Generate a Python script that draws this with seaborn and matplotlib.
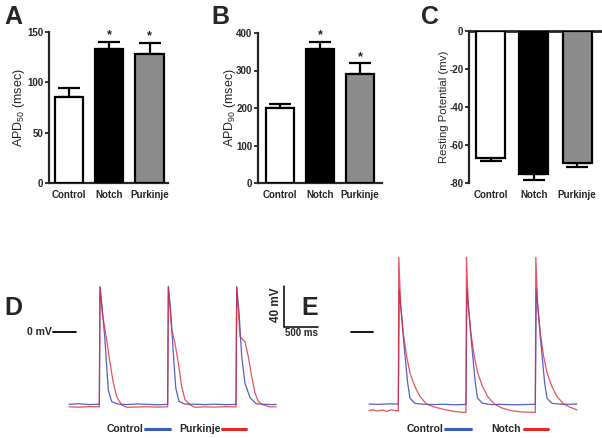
import numpy as np
import pandas as pd
import matplotlib
matplotlib.use("Agg")
import matplotlib.pyplot as plt
from matplotlib.lines import Line2D
import seaborn as sns

sns.set_style("white")
plt.rcParams['font.family'] = ['Liberation Sans', 'DejaVu Sans']
plt.rcParams['mathtext.fontset'] = 'custom'
plt.rcParams['mathtext.rm'] = 'Liberation Sans'
plt.rcParams['mathtext.it'] = 'Liberation Sans'
plt.rcParams['axes.unicode_minus'] = False

# ---------------- data ----------------
groups = ["Control", "Notch", "Purkinje"]
bar_colors = ["#ffffff", "#000000", "#8c8c8c"]

apd50 = [85, 133, 128]
apd50_err = [9, 7, 11]
apd90 = [200, 358, 292]
apd90_err = [12, 19, 27]
rest = [-66.8, -75.3, -69.5]
rest_err = [1.6, 3.1, 1.9]
sig_a = [False, True, True]
sig_b = [False, True, True]

# Action potential traces (time in ms, voltage in mV)
d_ctrl_t = [0, 150, 300, 440, 446, 456, 490, 529, 554, 578, 628, 721, 850, 1000, 1150, 1300, 1445,
            1451, 1461, 1495, 1524, 1549, 1571, 1616, 1701, 1850, 2000, 2150, 2300, 2450,
            2456, 2466, 2500, 2540, 2588, 2662, 2750, 2850, 3000, 3045]
d_ctrl_v = [-70.5, -70.0, -70.8, -70.5, -70.5, 44, 21.5, -7.8, -33.8, -56.6, -68, -70.3, -70.8, -70.2, -70.6, -71, -70.6,
            -70.6, 44.5, 21, -10, -35, -55, -67.5, -70.3, -70.5, -70.8, -70.4, -70.9, -70.6,
            -70.6, 44, 20, -24, -50, -64, -70, -70.5, -70.8, -70.6]
d_purk_t = [0, 150, 300, 440, 446, 456, 490, 554, 603, 652, 701, 775, 850, 1000, 1150, 1300, 1445,
            1451, 1461, 1510, 1558, 1607, 1657, 1705, 1779, 1850, 2000, 2150, 2300, 2450,
            2456, 2466, 2515, 2588, 2637, 2687, 2735, 2784, 2857, 2950, 3045]
d_purk_v = [-73, -73.3, -72.8, -73, -73, 44, 18.5, -7.8, -30, -49.8, -63.1, -71.3, -73.5, -73.2, -72.9, -73.3, -73,
            -73, 44, 2, -10.7, -30, -53, -66, -71, -73.5, -73, -73.3, -72.9, -73,
            -73, 44, -4.5, -9.5, -24, -43.6, -59.5, -68, -71.2, -73, -73]

e_ctrl_t = [0, 150, 300, 425, 431, 445, 481, 504, 540, 569, 603, 676, 800, 950, 1100, 1250, 1420,
            1426, 1440, 1476, 1499, 1535, 1564, 1598, 1671, 1800, 1950, 2100, 2250, 2440,
            2446, 2460, 2496, 2519, 2555, 2584, 2618, 2691, 2800, 2950, 3058]
e_ctrl_v = [-70.3, -70.6, -70.1, -70.4, -70.4, 41.7, 15, -4.6, -30, -50, -64.7, -69.6, -70.5, -70.8, -70.5, -71, -70.7,
            -70.7, 41.7, 15, -4.6, -30, -50, -64.7, -69.6, -70.8, -70.6, -71, -70.8, -70.6,
            -70.6, 41.7, 15, -4.6, -30, -50, -64.7, -69.6, -70.3, -70.5, -70.3]
e_notch_t = [0, 60, 120, 200, 260, 330, 390, 428, 431, 438, 466, 504, 554, 603, 676, 750, 848, 950, 1100, 1250, 1420,
             1426, 1433, 1461, 1499, 1549, 1598, 1671, 1745, 1843, 1950, 2100, 2250, 2440,
             2446, 2453, 2481, 2519, 2569, 2618, 2691, 2765, 2863, 2960, 3058]
e_notch_v = [-76.5, -76, -77, -76.2, -77.5, -75.8, -76.8, -77, -77, 72.9, 24.7, -1, -24, -40, -53.4, -63, -70.3, -73, -75.5, -77.5, -78.5,
             -78.5, 72.9, 24.7, -1, -24, -40, -53.4, -63, -70.3, -74, -77, -78, -78.4,
             -78.4, 72.9, 24.7, -1, -24, -40, -53.4, -63, -70.3, -73.5, -76]

BLUE = "#4450c0"
RED = "#e0283a"

# ---------------- layout helpers ----------------
W, H = 602, 438
fig = plt.figure(figsize=(W / 100, H / 100), dpi=100)


def rect(l, t, r, b):
    return [l / W, 1 - b / H, (r - l) / W, (b - t) / H]


def fx(x):
    return x / W


def fy(y):
    return 1 - y / H


def bar_panel(box, vals, errs, ylim, yticks, ylabel, xlim, width, ylabsize, labpad, neg=False, sig=None):
    ax = fig.add_axes(rect(*box))
    df = pd.DataFrame({"group": groups, "value": vals})
    sns.barplot(data=df, x="group", y="value", hue="group", palette=bar_colors,
                edgecolor="black", linewidth=1.6, errorbar=None, width=width,
                legend=False, ax=ax, zorder=3)
    lo = [0] * 3
    yerr = [errs, lo] if neg else [lo, errs]
    ax.errorbar(x=np.arange(3), y=vals, yerr=yerr, fmt="none", ecolor="black",
                elinewidth=1.6, capsize=8, capthick=1.6, zorder=2)
    ax.set_ylim(*ylim)
    ax.set_xlim(*xlim)
    ax.set_yticks(yticks)
    ax.set_xlabel("")
    ax.set_ylabel(ylabel, fontsize=ylabsize, labelpad=labpad)
    ax.tick_params(axis="y", direction="out", length=3, width=1.3, labelsize=7, pad=1, left=True)
    ax.tick_params(axis="x", length=0, labelsize=7, pad=5)
    for lab in ax.get_xticklabels() + ax.get_yticklabels():
        lab.set_fontweight("bold")
    ax.spines["right"].set_visible(False)
    ax.spines["left"].set_linewidth(1.6)
    if neg:
        ax.spines["bottom"].set_visible(False)
        ax.spines["top"].set_linewidth(2.0)
    else:
        ax.spines["top"].set_visible(False)
        ax.spines["bottom"].set_linewidth(1.6)
    ax.set_facecolor("none")
    if sig is not None:
        for i, s in enumerate(sig):
            if s:
                ax.annotate("*", (i, vals[i] + errs[i]), xytext=(0, 0.5),
                            textcoords="offset points", ha="center", va="bottom",
                            fontsize=9, fontweight="bold")
    return ax


axA = bar_panel((49, 32, 168, 183), apd50, apd50_err, (0, 150), [0, 50, 100, 150],
                r"APD$_{50}$ (msec)", (-0.5, 2.46), 0.7, 9.0, 0.0, sig=sig_a)
axB = bar_panel((258, 33, 382, 183), apd90, apd90_err, (0, 400), [0, 100, 200, 300, 400],
                r"APD$_{90}$ (msec)", (-0.55, 2.55), 0.7, 9.0, -1.0, sig=sig_b)
axC = bar_panel((469, 31, 601, 183), rest, rest_err, (-80, 0), [-80, -60, -40, -20, 0],
                "Resting Potential (mv)", (-0.5, 2.55), 0.67, 8.2, 0.5, neg=True)

# panel letters
for letter, x, y in [("A", 4, 17), ("B", 211, 17), ("C", 421, 17), ("D", 4, 308), ("E", 301, 308)]:
    fig.text(fx(x), fy(y), letter, fontsize=18, fontweight="bold", ha="left", va="center")

# ---------------- traces ----------------
MS_PER_PX = 500 / 34.0
MV_PER_PX = 40 / 41.0


def trace_axes(box, x0, y0):
    ax = fig.add_axes(rect(*box))
    l, t, r, b = box
    ax.set_xlim((l - x0) * MS_PER_PX, (r - x0) * MS_PER_PX)
    ax.set_ylim((y0 - b) * MV_PER_PX, (y0 - t) * MV_PER_PX)
    ax.axis("off")
    ax.set_facecolor("none")
    return ax


axD = trace_axes((20, 240, 330, 438), 69, 332)
axE = trace_axes((320, 240, 602, 438), 369, 332)

for ax, (t1, v1), (t2, v2) in [(axD, (d_ctrl_t, d_ctrl_v), (d_purk_t, d_purk_v)),
                               (axE, (e_ctrl_t, e_ctrl_v), (e_notch_t, e_notch_v))]:
    sns.lineplot(x=t1, y=v1, ax=ax, color=BLUE, linewidth=0.9, estimator=None, sort=False, alpha=0.9)
    sns.lineplot(x=t2, y=v2, ax=ax, color=RED, linewidth=0.9, estimator=None, sort=False, alpha=0.8)

# 0 mV markers
axD.plot([(53 - 69) * MS_PER_PX, (76 - 69) * MS_PER_PX], [0, 0], color="black", lw=1.3)
axD.text((51.5 - 69) * MS_PER_PX, 0, "0 mV", ha="right", va="center", fontsize=7.5, fontweight="bold")
axE.plot([(351 - 369) * MS_PER_PX, (373 - 369) * MS_PER_PX], [0, 0], color="black", lw=1.3)

# scale bar (40 mV, 500 ms)
sb_t = (284.3 - 69) * MS_PER_PX
sb_v = (332 - 326.7) * MV_PER_PX
axD.plot([sb_t, sb_t, sb_t + 500], [sb_v + 40, sb_v, sb_v], color="black", lw=1.1,
         solid_joinstyle="miter")
axD.text(sb_t - 8 * MS_PER_PX, sb_v + 21, "40 mV", rotation=90, ha="center", va="center",
         fontsize=8.5, fontweight="bold")
axD.text(sb_t + 250, sb_v - 1.5, "500 ms", ha="center", va="top", fontsize=7, fontweight="bold")


# legends
def leg(text_right, line_l, line_r, label, color, y=428.5):
    fig.text(fx(text_right), fy(y), label, ha="right", va="center", fontsize=7.5, fontweight="bold")
    fig.add_artist(Line2D([fx(line_l), fx(line_r)], [fy(y), fy(y)], color=color, lw=2.2))


leg(143.5, 145, 170, "Control", "#3b5bc4")
leg(221, 222, 246, "Purkinje", "#e8232a")
leg(443.5, 445, 471, "Control", "#3b5bc4")
leg(521, 524, 548, "Notch", "#e8232a")

fig.savefig("out.png", dpi=100)
